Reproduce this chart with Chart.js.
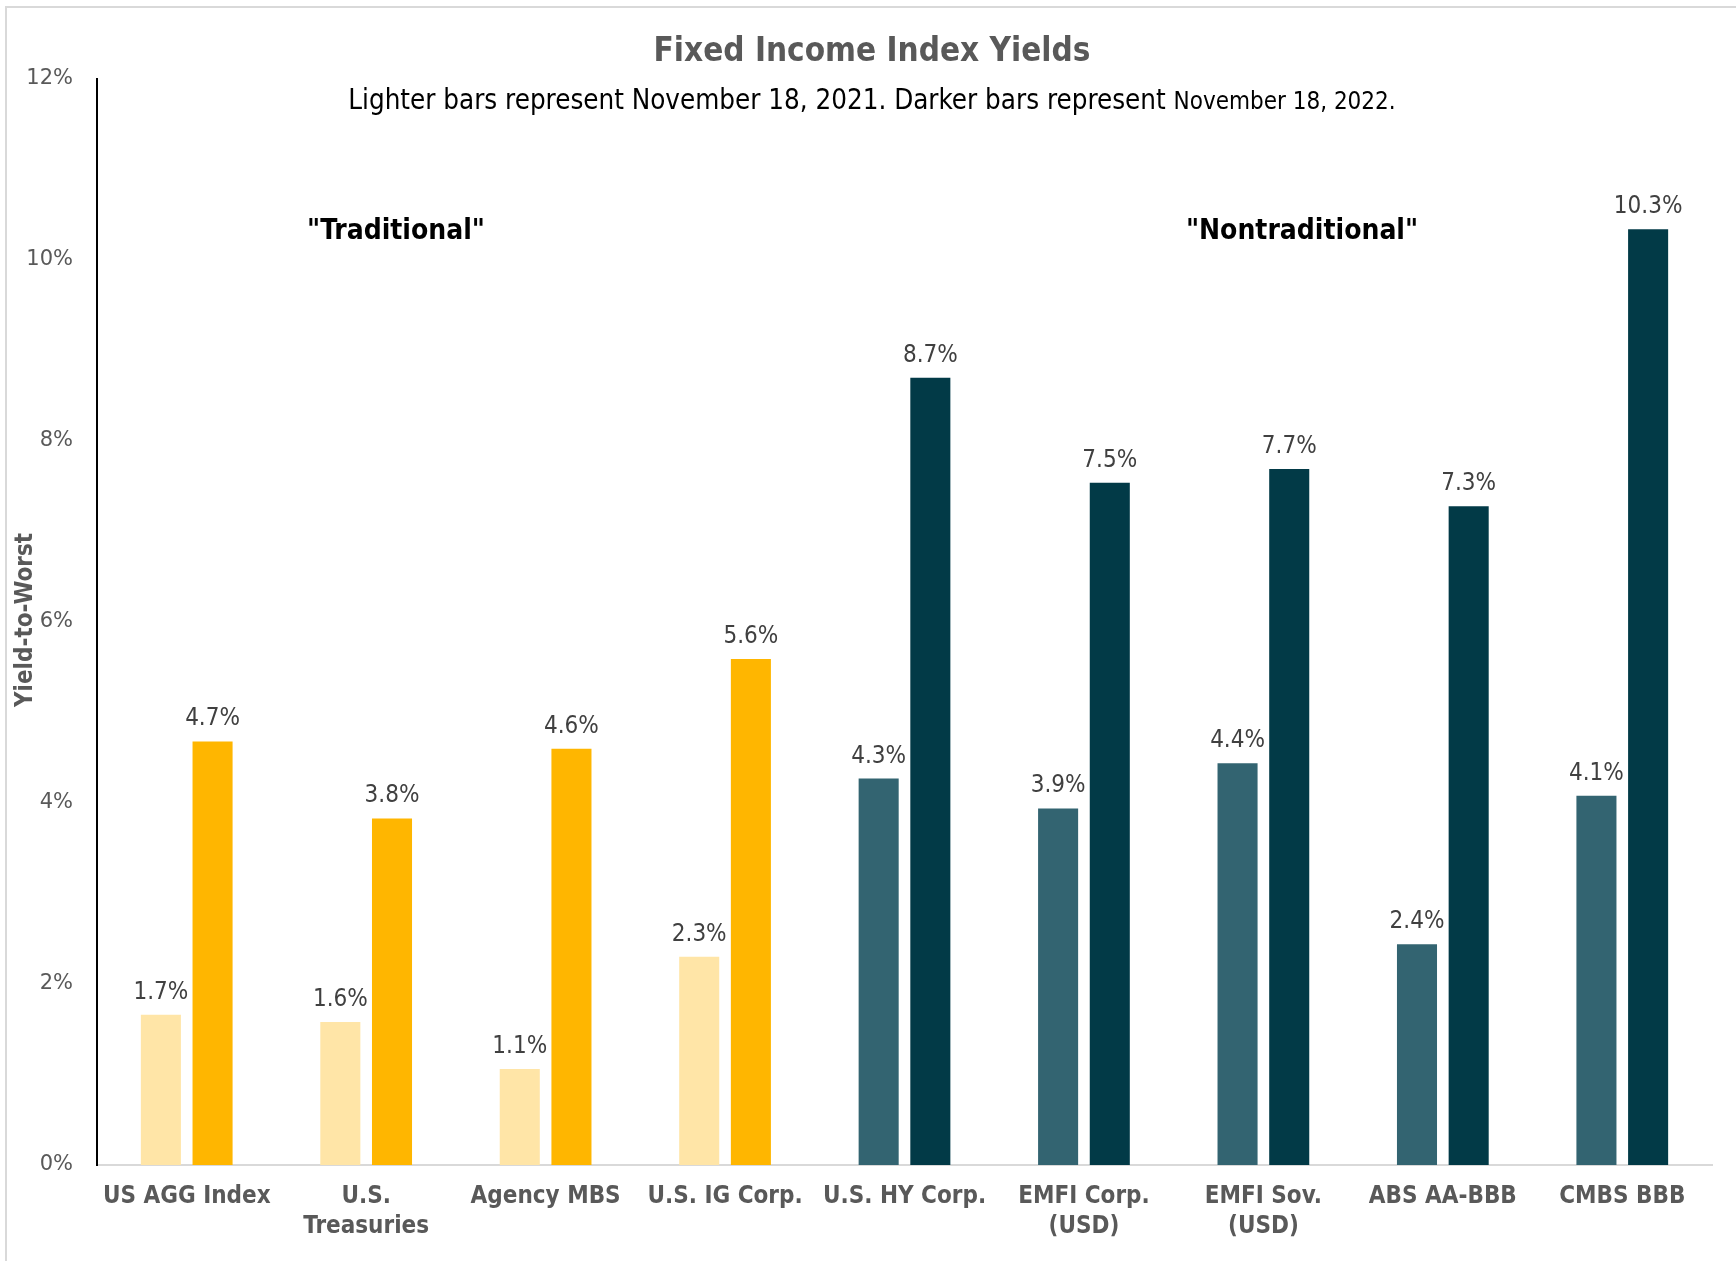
<!DOCTYPE html>
<html>
<head>
<meta charset="utf-8">
<script src="https://cdn.jsdelivr.net/npm/chart.js@4.4.1/dist/chart.umd.min.js"></script>
<style>
  html, body { margin: 0; padding: 0; background: #fff; }
  #wrap { width: 1736px; height: 1261px; }
</style>
</head>
<body>
<div id="wrap"><canvas id="yieldChart" width="1736" height="1261"></canvas></div>
<script>
// Categorias do eixo X
const categories = [
    'US AGG Index', ['U.S.', 'Treasuries'], 'Agency MBS', 'U.S. IG Corp.', 'U.S. HY Corp.',
    ['EMFI Corp.', '(USD)'], ['EMFI Sov.', '(USD)'], 'ABS AA-BBB', 'CMBS BBB'
];
// Rendimentos em 18/11/2021 (barras claras) e 18/11/2022 (barras escuras)
const yields2021 = [1.66, 1.58, 1.06, 2.30, 4.27, 3.94, 4.44, 2.44, 4.08];
const yields2022 = [4.68, 3.83, 4.60, 5.59, 8.70, 7.54, 7.69, 7.28, 10.34];
const yTicks = [0, 2, 4, 6, 8, 10, 12];

// Cores: amarelo para "tradicional", azul petróleo para "não tradicional"
const lightColors = categories.map((c, i) => i < 4 ? '#FFE5A7' : '#336471');
const darkColors = categories.map((c, i) => i < 4 ? '#FFB600' : '#023A47');

const condensed = '"DejaVu Sans Condensed", "DejaVu Sans", sans-serif';

// Plugin para textos extras: moldura, título, subtítulo, anotações e rótulos das barras
const extras = {
    id: 'extras',
    beforeDraw(chart) {
        const c = chart.ctx;
        c.save();
        c.strokeStyle = '#d9d9d9';
        c.lineWidth = 2;
        c.beginPath();
        c.moveTo(6, 1261);
        c.lineTo(6, 7);
        c.lineTo(1736, 7);
        c.stroke();
        c.restore();
    },
    afterDraw(chart) {
        const c = chart.ctx;
        c.save();
        // título
        c.fillStyle = '#595959';
        c.textAlign = 'center';
        c.textBaseline = 'alphabetic';
        c.font = 'bold 33px ' + condensed;
        c.fillText('Fixed Income Index Yields', 872, 61);

        // subtítulo com dois tamanhos de fonte
        const partA = 'Lighter bars represent November 18, 2021. Darker bars represent ';
        const partB = 'November 18, 2022.';
        c.fillStyle = '#000';
        c.font = '27.5px ' + condensed;
        const wA = c.measureText(partA).width;
        c.font = '24px ' + condensed;
        const wB = c.measureText(partB).width;
        let x0 = 872 - (wA + wB) / 2;
        c.textAlign = 'left';
        c.font = '27.5px ' + condensed;
        c.fillText(partA, x0, 109);
        c.font = '24px ' + condensed;
        c.fillText(partB, x0 + wA, 109);

        // anotações
        c.textAlign = 'center';
        c.font = 'bold 28px ' + condensed;
        c.fillText('"Traditional"', 396, 239);
        c.fillText('"Nontraditional"', 1302, 239);

        // título do eixo Y
        c.save();
        c.translate(26, 620);
        c.rotate(-Math.PI / 2);
        c.fillStyle = '#595959';
        c.font = 'bold 24px ' + condensed;
        c.textBaseline = 'middle';
        c.fillText('Yield-to-Worst', 0, 0);
        c.restore();

        // rótulos de valor
        c.fillStyle = '#404040';
        c.font = '24px ' + condensed;
        c.textAlign = 'center';
        chart.data.datasets.forEach((ds, di) => {
            chart.getDatasetMeta(di).data.forEach((bar, i) => {
                c.fillText(ds.data[i].toFixed(1) + '%', bar.x, bar.y - 16);
            });
        });
        c.restore();
    }
};

new Chart(document.getElementById('yieldChart').getContext('2d'), {
    type: 'bar',
    data: {
        labels: categories,
        datasets: [
            { label: 'Nov 18, 2021', data: yields2021, backgroundColor: lightColors },
            { label: 'Nov 18, 2022', data: yields2022, backgroundColor: darkColors }
        ]
    },
    options: {
        responsive: false,
        animation: false,
        categoryPercentage: 0.576,
        barPercentage: 0.775,
        layout: { padding: { left: 0, top: 79, right: 24, bottom: 0 } },
        plugins: {
            legend: { display: false },
            tooltip: { enabled: false }
        },
        scales: {
            x: {
                grid: { display: false, drawTicks: false },
                border: { display: true, color: '#d9d9d9', width: 2 },
                ticks: {
                    color: '#595959',
                    font: { family: condensed, size: 24, weight: 'bold', lineHeight: 1.25 },
                    padding: 17,
                    maxRotation: 0,
                    autoSkip: false
                },
                afterFit(scale) { scale.height = 96; }
            },
            y: {
                min: 0,
                max: 12,
                afterBuildTicks(scale) { scale.ticks = yTicks.map(v => ({ value: v })); },
                grid: { display: false, drawTicks: false },
                border: { display: true, color: '#000', width: 2 },
                ticks: {
                    color: '#595959',
                    font: { family: '"DejaVu Sans", sans-serif', size: 21 },
                    padding: 24,
                    callback: v => v + '%'
                },
                afterFit(scale) { scale.width = 97; }
            }
        }
    },
    plugins: [extras]
});
</script>
</body>
</html>
